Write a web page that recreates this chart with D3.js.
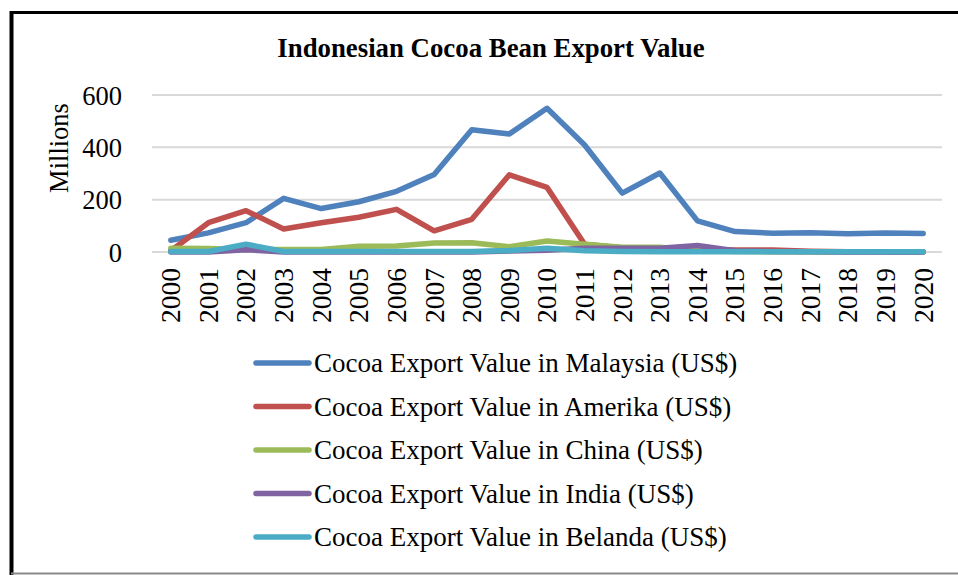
<!DOCTYPE html>
<html><head><meta charset="utf-8">
<script src="https://cdn.jsdelivr.net/npm/d3@7"></script>
<style>body{margin:0;background:#fff}svg{display:block}text{font-family:"Liberation Serif","Times New Roman",serif;fill:#000}</style>
</head><body>
<script>
const years = ["2000","2001","2002","2003","2004","2005","2006","2007","2008","2009","2010","2011","2012","2013","2014","2015","2016","2017","2018","2019","2020"];
const malaysia = [45,73,112,205,166,192,232,296,467,451,549,409,225,302,119,78,72,74,70,73,71];
const amerika  = [5,112,158,88,112,133,163,81,125,295,247,30,15,12,10,8,8,3,1,0,0];
const china    = [14,13,10,10,10,22,23,34,35,20,42,30,18,18,6,2,1,1,1,1,1];
const india    = [0,0,9,0,0,0,0,0,0,4,7,14,14,14,25,5,2,1,0,0,0];
const belanda  = [2,2,30,2,2,2,2,2,2,6,14,5,2,1,1,1,1,1,1,1,1];
const yTicks = [0,200,400,600];
const seriesNames = ["Cocoa Export Value in Malaysia (US$)","Cocoa Export Value in Amerika (US$)","Cocoa Export Value in China (US$)","Cocoa Export Value in India (US$)","Cocoa Export Value in Belanda (US$)"];
const colors = ["#4F81BD","#C0504D","#9BBB59","#8064A2","#4BACC6"];
const seriesValues = [malaysia, amerika, china, india, belanda];

const W = 958, H = 575;
const svg = d3.select("body").append("svg").attr("width", W).attr("height", H);

// frame
svg.append("line").attr("x1",11.5).attr("x2",W).attr("y1",12.5).attr("y2",12.5).attr("stroke","#000").attr("stroke-width",3);
svg.append("line").attr("x1",11.5).attr("x2",11.5).attr("y1",11).attr("y2",H).attr("stroke","#000").attr("stroke-width",4);
svg.append("line").attr("x1",11).attr("x2",W).attr("y1",573.5).attr("y2",573.5).attr("stroke","#8a8a8a").attr("stroke-width",2);

const x = d3.scaleBand().domain(years).range([152, 942]);
const y = d3.scaleLinear().domain([0, 600]).range([252, 95]);

// title
svg.append("text").attr("x", 491).attr("y", 57).attr("text-anchor","middle")
  .style("font-weight","bold").style("font-size","26.8px").text("Indonesian Cocoa Bean Export Value");

// gridlines
svg.append("g").selectAll("line").data(yTicks).join("line")
  .attr("x1", 152).attr("x2", 942).attr("y1", d=>y(d)).attr("y2", d=>y(d))
  .attr("stroke","#D9D9D9").attr("stroke-width",2);

// y axis labels
const yAxis = d3.axisLeft(y).tickValues(yTicks).tickSize(0).tickPadding(0);
const gy = svg.append("g").attr("transform","translate(122,0)").call(yAxis);
gy.select(".domain").remove();
gy.selectAll("text").style("font-size","26.5px").style("font-family","'Liberation Serif',serif").attr("fill","#000").attr("dy","0.34em");

svg.append("text").attr("transform","translate(68,148) rotate(-90)").attr("text-anchor","middle")
  .style("font-size","26.5px").text("Millions");

// x axis labels
const xAxis = d3.axisBottom(x).tickSize(0).tickPadding(0);
const gx = svg.append("g").attr("transform","translate(0,268)").call(xAxis);
gx.select(".domain").remove();
gx.selectAll("text").style("font-size","27.5px").style("font-family","'Liberation Serif',serif").attr("fill","#000")
  .attr("text-anchor","end").attr("transform","rotate(-90)").attr("x",0).attr("y",0).attr("dy","0.34em");

// lines
const line = d3.line().x((d,i)=>x(years[i]) + x.bandwidth()/2).y(d=>y(d));
seriesValues.forEach((vals, k) => {
  svg.append("path").datum(vals).attr("d", line).attr("fill","none")
    .attr("stroke", colors[k]).attr("stroke-width",5.5)
    .attr("stroke-linejoin","round").attr("stroke-linecap","round");
});

// legend
const lg = svg.append("g");
seriesNames.forEach((name, k) => {
  const cy = 363 + k*43.5;
  lg.append("line").attr("x1",256).attr("x2",309).attr("y1",cy).attr("y2",cy)
    .attr("stroke",colors[k]).attr("stroke-width",5.5).attr("stroke-linecap","round");
  lg.append("text").attr("x",314).attr("y",cy).attr("dy","0.34em").style("font-size","27px").text(name);
});
</script>
</body></html>
